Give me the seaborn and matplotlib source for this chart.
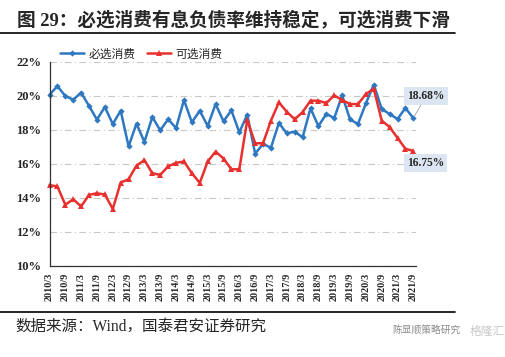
import matplotlib
matplotlib.use("Agg")
import matplotlib.pyplot as plt
import seaborn as sns
import pandas as pd
import numpy as np
from matplotlib.lines import Line2D

quarters = ["2010/3", "2010/6", "2010/9", "2010/12", "2011/3", "2011/6", "2011/9", "2011/12",
            "2012/3", "2012/6", "2012/9", "2012/12", "2013/3", "2013/6", "2013/9", "2013/12",
            "2014/3", "2014/6", "2014/9", "2014/12", "2015/3", "2015/6", "2015/9", "2015/12",
            "2016/3", "2016/6", "2016/9", "2016/12", "2017/3", "2017/6", "2017/9", "2017/12",
            "2018/3", "2018/6", "2018/9", "2018/12", "2019/3", "2019/6", "2019/9", "2019/12",
            "2020/3", "2020/6", "2020/9", "2020/12", "2021/3", "2021/6", "2021/9"]

essential = [20.05, 20.57, 19.98, 19.77, 20.18, 19.40, 18.60, 19.34, 18.34, 19.12,
             17.03, 18.36, 17.29, 18.75, 17.97, 18.62, 18.10, 19.75, 18.44, 19.12,
             18.22, 19.51, 18.50, 19.14, 17.85, 18.89, 16.60, 17.17, 16.95, 18.40,
             17.79, 17.89, 17.56, 19.26, 18.22, 18.93, 18.69, 20.02, 18.61, 18.34,
             19.55, 20.66, 19.22, 18.93, 18.63, 19.28, 18.68]

optional = [14.75, 14.67, 13.60, 13.92, 13.50, 14.18, 14.27, 14.20, 13.35, 14.90,
            15.10, 15.90, 16.22, 15.45, 15.35, 15.85, 16.06, 16.14, 15.45, 14.88,
            16.14, 16.72, 16.31, 15.68, 15.68, 18.57, 17.21, 17.21, 18.54, 19.61,
            19.06, 18.62, 19.04, 19.71, 19.71, 19.57, 20.02, 19.75, 19.51, 19.51,
            20.10, 20.41, 18.54, 18.16, 17.52, 16.89, 16.75]

tick_labels = ["2010/3", "2010/9", "2011/3", "2011/9", "2012/3", "2012/9", "2013/3", "2013/9",
               "2014/3", "2014/9", "2015/3", "2015/9", "2016/3", "2016/9", "2017/3", "2017/9",
               "2018/3", "2018/9", "2019/3", "2019/9", "2020/3", "2020/9", "2021/3", "2021/9"]

y_ticks = [10, 12, 14, 16, 18, 20, 22]

name_a = "必选消费"
name_b = "可选消费"
title = "图 29：必选消费有息负债率维持稳定，可选消费下滑"
source = "数据来源：Wind，国泰君安证券研究"

sns.set_style("white")
plt.rcParams["font.family"] = ["Liberation Serif", "Noto Sans CJK SC", "DejaVu Sans"]

W, H = 506, 357
fig = plt.figure(figsize=(W / 100, H / 100), dpi=100)
left_px, right_px, top_px, bot_px = 49.5, 415.7, 61.7, 266
ax = fig.add_axes([left_px / W, 1 - bot_px / H, (right_px - left_px) / W, (bot_px - top_px) / H])

df = pd.DataFrame({"q": quarters * 2,
                   "v": essential + optional,
                   "s": [name_a] * len(quarters) + [name_b] * len(quarters)})
blue = "#2E78C2"
red = "#E8312F"
sns.lineplot(data=df[df.s == name_a], x="q", y="v", color=blue, lw=1.8, marker="D",
             markersize=3.2, markeredgewidth=0, ax=ax, sort=False, clip_on=False, label=name_a)
sns.lineplot(data=df[df.s == name_b], x="q", y="v", color=red, lw=1.8, marker="^",
             markersize=4.2, markeredgewidth=0, ax=ax, sort=False, clip_on=False, label=name_b)

ax.set_xlim(0, 46.3)
ax.set_ylim(10, 22)
ax.set_xlabel("")
ax.set_ylabel("")
pos = [quarters.index(t) for t in tick_labels]
ax.set_xticks(pos)
ax.set_xticklabels(tick_labels, rotation=90, fontsize=7.3, fontweight="bold")
ax.set_yticks(y_ticks)
ax.set_yticklabels([f"{t}%" for t in y_ticks], fontsize=9, fontweight="bold")
ax.tick_params(axis="both", direction="out", length=3, width=0.8, color="#333333", pad=2)
ax.tick_params(axis="y", pad=3)
for s in ["top", "right"]:
    ax.spines[s].set_visible(False)
for s in ["left", "bottom"]:
    ax.spines[s].set_color("#333333")
    ax.spines[s].set_linewidth(0.9)
ax.yaxis.grid(True, linestyle=(0, (6, 3, 1, 3)), color="#C8C8C8", lw=0.8)
ax.set_axisbelow(True)

ax.legend_.remove()
handles, labels = ax.get_legend_handles_labels()
fig.legend(handles, labels, loc="center left", bbox_to_anchor=(0.098, 1 - 54 / H), ncol=2,
           frameon=False, handlelength=2.0, columnspacing=1.0, handletextpad=0.4,
           prop={"family": ["Noto Sans CJK SC"], "size": 8.5})

box = dict(boxstyle="square,pad=0.25", fc="#DCE6F2", ec="none")
ax.annotate(f"{essential[-1]:.2f}%", xy=(46, essential[-1]), xytext=(47.6, 19.98),
            fontsize=8.3, fontweight="bold", ha="center", va="center", bbox=box,
            annotation_clip=False,
            arrowprops=dict(arrowstyle="-", color="#A0A0A0", lw=0.6, shrinkA=0, shrinkB=2))
ax.annotate(f"{optional[-1]:.2f}%", xy=(46, optional[-1]), xytext=(47.6, 16.05),
            fontsize=8.3, fontweight="bold", ha="center", va="center", bbox=box,
            annotation_clip=False)

fig.text(17 / W, 1 - 20 / H, title, fontsize=13.4, fontweight="bold", ha="left", va="center",
         family=["Liberation Serif", "Noto Sans CJK SC"])
fig.add_artist(Line2D([0, 455 / W], [1 - 33 / H] * 2, color="black", lw=1.2))
fig.add_artist(Line2D([0, 455 / W], [1 - 312 / H] * 2, color="black", lw=1.2))
fig.text(15 / W, 1 - 327 / H, source, fontsize=11.2, ha="left", va="center",
         family=["Liberation Serif", "Noto Sans CJK SC"])
fig.text(392 / W, 1 - 330 / H, "陈显顺策略研究", fontsize=7.0, color="#8A8A8A", ha="left", va="center",
         family=["Noto Sans CJK SC"])
fig.text(470 / W, 1 - 331 / H, "格隆汇", fontsize=8.5, color="#C8C8C8", ha="left", va="center",
         family=["Noto Sans CJK SC"])

fig.savefig("out.png", dpi=100)
